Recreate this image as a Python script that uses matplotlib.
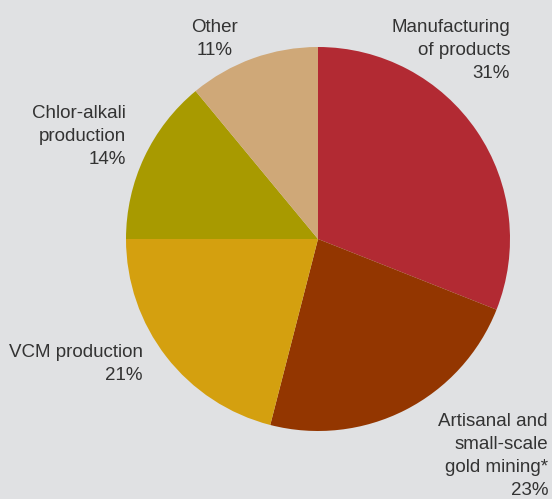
import matplotlib.pyplot as plt

categories = ["Manufacturing\nof products", "Artisanal and\nsmall-scale\ngold mining*",
              "VCM production", "Chlor-alkali\nproduction", "Other"]
shares = [31, 23, 21, 14, 11]
colors = ["#b22a33", "#933600", "#d4a00f", "#a89a00", "#cfa878"]

W, H = 552, 499
fig = plt.figure(figsize=(W / 100, H / 100), dpi=100, facecolor="#e0e1e3")
ax = fig.add_axes([0, 0, 1, 1])

ax.pie(shares, colors=colors, startangle=90, counterclock=False,
       center=(318, H - 239), radius=192, frame=True,
       wedgeprops=dict(linewidth=0))
ax.set_xlim(0, W)
ax.set_ylim(0, H)
ax.set_aspect("equal")
ax.axis("off")

# label anchors (pixel positions from the top-left)
label_pos = [(510, 19, "right"), (548, 413, "right"), (143, 344, "right"),
             (126, 105, "right"), (215, 19, "center")]

for name, pct, (x, y, ha) in zip(categories, shares, label_pos):
    ax.text(x, H - y, f"{name}\n{pct}%", ha=ha, va="top", multialignment=ha,
            fontsize=13.5, family="Liberation Sans", color="#333333",
            linespacing=1.46)

fig.savefig("out.png", dpi=100, facecolor=fig.get_facecolor())
